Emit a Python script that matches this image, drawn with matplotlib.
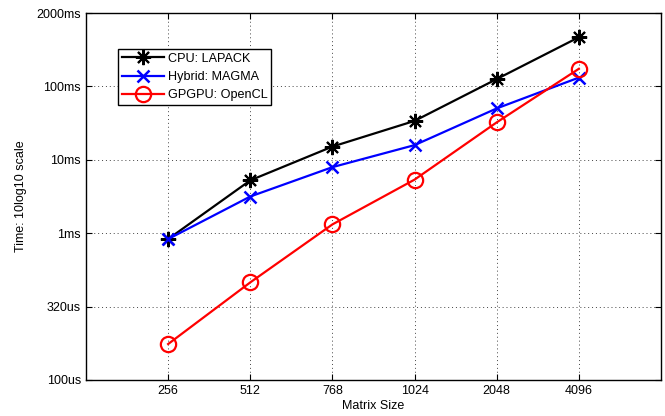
import matplotlib
matplotlib.use("Agg")
import matplotlib.pyplot as plt

plt.rcParams['font.family'] = ['Liberation Sans', 'DejaVu Sans']

sizes = ["256", "512", "768", "1024", "2048", "4096"]
ytick_labels = ["100us", "320us", "1ms", "10ms", "100ms", "2000ms"]
# values in axis units (one unit per labelled tick)
cpu = [1.92, 2.72, 3.18, 3.53, 4.10, 4.67]
hybrid = [1.92, 2.50, 2.90, 3.20, 3.70, 4.12]
gpgpu = [0.49, 1.33, 2.12, 2.73, 3.51, 4.24]

fig = plt.figure(figsize=(6.65, 4.16), dpi=100)
ax = fig.add_axes([86/665, 1-380/416, (661-86)/665, (380-13)/416])

x = list(range(1, len(sizes) + 1))
ax.plot(x, cpu, color='black', lw=1.6, marker=(8, 2, 0), ms=11, mew=1.5, label='CPU: LAPACK')
ax.plot(x, hybrid, color='blue', lw=1.6, marker='x', ms=9, mew=1.8, label='Hybrid: MAGMA')
ax.plot(x, gpgpu, color='red', lw=1.6, marker='o', ms=11, mfc='none', mew=1.6, label='GPGPU: OpenCL')

ax.set_xlim(0, 7)
ax.set_ylim(0, 5)
ax.set_xticks(x)
ax.set_xticklabels(sizes)
ax.set_yticks(range(len(ytick_labels)))
ax.set_yticklabels(ytick_labels)
ax.tick_params(direction='in', top=True, right=True, labelsize=9, length=4, width=0.8)
ax.grid(True, linestyle=(0, (1, 3)), color='#444444', lw=0.7)
for s in ax.spines.values():
    s.set_linewidth(1.0)

ax.set_xlabel('Matrix Size', fontsize=9, labelpad=2)
ax.set_ylabel('Time: 10log10 scale', fontsize=9, labelpad=7)

leg = ax.legend(loc='upper left', bbox_to_anchor=(32/575, 1-(49-13)/367), fontsize=9.1,
                frameon=True, fancybox=False, edgecolor='black', framealpha=1,
                handlelength=3.3, borderpad=0.3, labelspacing=0.5, handletextpad=0.35,
                borderaxespad=0)
leg.get_frame().set_linewidth(1.0)

fig.savefig('out.png', dpi=100)
